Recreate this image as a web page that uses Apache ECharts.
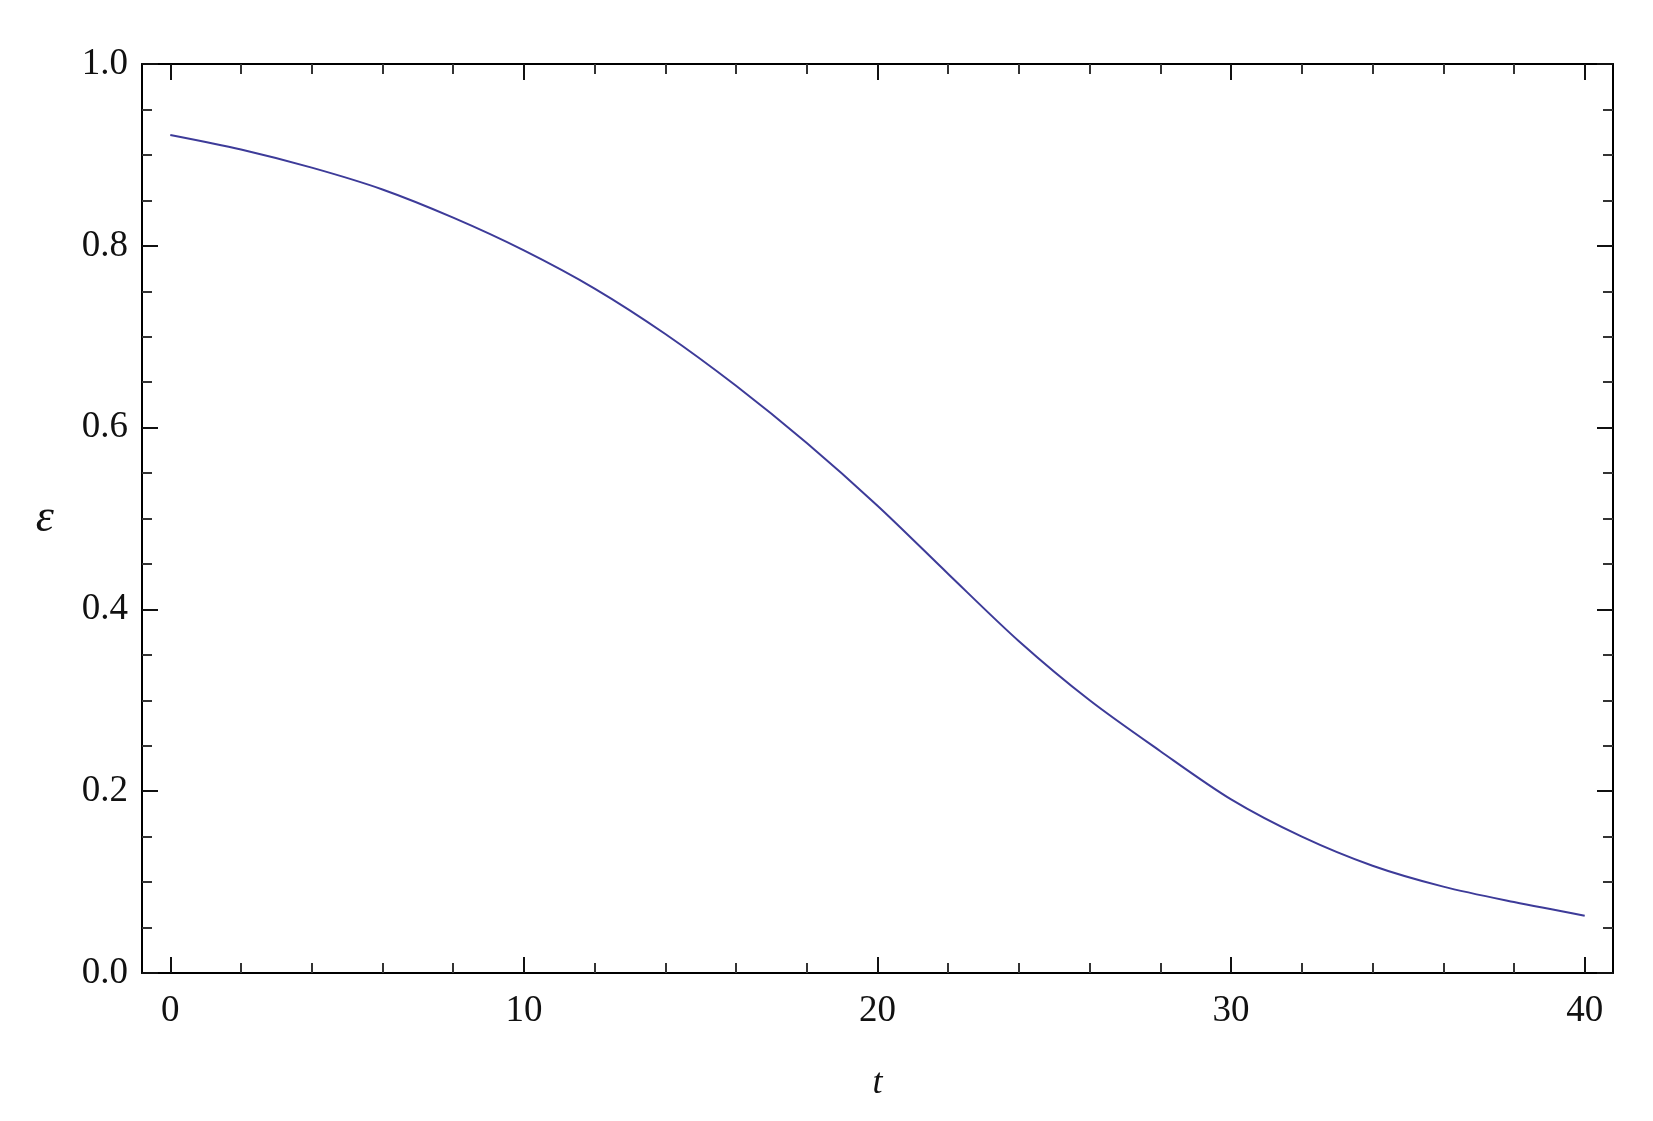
<!DOCTYPE html>
<html>
<head>
<meta charset="utf-8">
<title>epsilon vs t</title>
<script src="https://cdn.jsdelivr.net/npm/echarts@6/dist/echarts.min.js"></script>
<style>
  html, body { margin: 0; padding: 0; background: #fff; }
  #chart { width: 1653px; height: 1121px; }
</style>
</head>
<body>
<div id="chart"></div>
<script>
// values
const tValues = [0, 2, 4, 6, 8, 10, 12, 14, 16, 18, 20, 22, 24, 26, 28, 30, 32, 34, 36, 38, 40];
const epsValues = [0.922, 0.906, 0.886, 0.862, 0.831, 0.795, 0.753, 0.703, 0.646, 0.583, 0.514,
  0.439, 0.365, 0.300, 0.244, 0.191, 0.150, 0.118, 0.095, 0.078, 0.063];

const xMajorTicks = [0, 10, 20, 30, 40];
const xMinorTicks = [2, 4, 6, 8, 12, 14, 16, 18, 22, 24, 26, 28, 32, 34, 36, 38];

const font = "'Liberation Serif', 'DejaVu Serif', serif";
const frame = { show: true, onZero: false, lineStyle: { color: '#000', width: 2 } };
const noLine = { show: false, onZero: false };

const xBase = { type: 'value', min: -0.8, max: 40.8, splitLine: { show: false } };

const xAxisMajor = (position, labels) => ({
  ...xBase,
  position,
  axisLine: frame,
  axisTick: { show: true, inside: true, length: 16, customValues: xMajorTicks, lineStyle: { color: '#111', width: 2 } },
  axisLabel: labels
    ? { show: true, customValues: xMajorTicks, margin: 20, fontFamily: font, fontSize: 37, color: '#111' }
    : { show: false },
});

const xAxisMinor = (position) => ({
  ...xBase,
  position,
  axisLine: noLine,
  axisTick: { show: true, inside: true, length: 10, customValues: xMinorTicks, lineStyle: { color: '#333', width: 2 } },
  axisLabel: { show: false },
});

const yAxis = (position, labels) => ({
  type: 'value',
  position,
  min: 0,
  max: 1,
  interval: 0.2,
  splitLine: { show: false },
  axisLine: frame,
  axisTick: { show: true, inside: true, length: 16, lineStyle: { color: '#111', width: 2 } },
  minorTick: { show: true, splitNumber: 4, length: 10, lineStyle: { color: '#333', width: 2 } },
  axisLabel: labels
    ? { show: true, margin: 14, fontFamily: font, fontSize: 37, color: '#111', formatter: (v) => v.toFixed(1) }
    : { show: false },
});

const xMain = xAxisMajor('bottom', true);
xMain.name = 't';
xMain.nameLocation = 'middle';
xMain.nameGap = 93;
xMain.nameTextStyle = { fontFamily: font, fontStyle: 'italic', fontSize: 36, color: '#111' };

const yMain = yAxis('left', true);
yMain.name = 'ε';
yMain.nameLocation = 'middle';
yMain.nameRotate = 0;
yMain.nameGap = 88;
yMain.nameTextStyle = { fontFamily: font, fontStyle: 'italic', fontSize: 46, color: '#111' };

const chart = echarts.init(document.getElementById('chart'), null, { renderer: 'canvas' });
chart.setOption({
  animation: false,
  backgroundColor: '#fff',
  grid: { left: 142, right: 40, top: 64, bottom: 148 },
  xAxis: [xMain, xAxisMinor('bottom'), xAxisMajor('top', false), xAxisMinor('top')],
  yAxis: [yMain, yAxis('right', false)],
  series: [
    {
      type: 'line',
      xAxisIndex: 0,
      yAxisIndex: 0,
      data: tValues.map((t, i) => [t, epsValues[i]]),
      smooth: 0.3,
      showSymbol: false,
      lineStyle: { color: '#3d3b99', width: 2 },
    },
  ],
});
</script>
</body>
</html>
